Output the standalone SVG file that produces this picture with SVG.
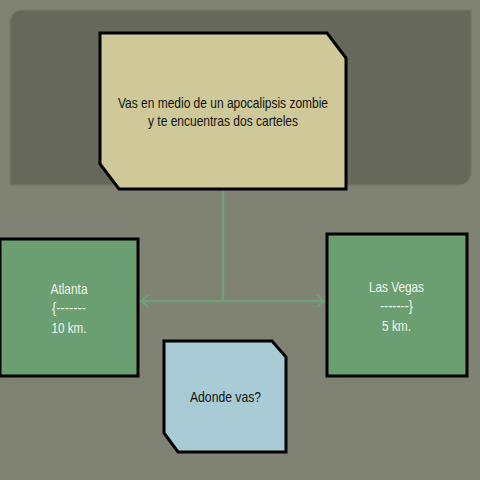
<svg xmlns="http://www.w3.org/2000/svg" width="480" height="480" viewBox="0 0 480 480">
<style>
.box{stroke:#000;stroke-width:3;stroke-linejoin:miter}
.dark{font-family:"Liberation Sans",Arial,sans-serif;font-size:15px;fill:#111;text-anchor:middle}
.light{font-family:"Liberation Sans",Arial,sans-serif;font-size:15px;fill:#f2f5ee;text-anchor:middle}
.conn{stroke:#6fa076;stroke-width:2.5;fill:none}
</style>
<defs>
<marker id="arr" markerUnits="userSpaceOnUse" markerWidth="16" markerHeight="16" viewBox="-10 -8 16 16" refX="0" refY="0" orient="auto-start-reverse" overflow="visible">
<path d="M-7,-6 L0,0 L-7,6" fill="none" stroke="#6fa076" stroke-width="2"/>
</marker>
</defs>
<rect width="480" height="480" fill="#808373"/>
<path d="M22,10 H471 V173 A12,12 0 0 1 459,185 H10 V22 A12,12 0 0 1 22,10 Z" fill="#65685a" stroke="#75786a" stroke-width="1.5"/>
<g id="connectors">
<line class="conn" x1="223" y1="189" x2="223" y2="301"/>
<line class="conn" x1="141" y1="301" x2="324" y2="301" marker-start="url(#arr)" marker-end="url(#arr)"/>
</g>
<g id="n-top">
<path class="box" d="M100,33 H327 L346,58 V189 H119 L100,164 Z" fill="#cfc99a"/>
<text class="dark" x="223" y="108" textLength="210" lengthAdjust="spacingAndGlyphs">Vas en medio de un apocalipsis zombie</text>
<text class="dark" x="223" y="126" textLength="150" lengthAdjust="spacingAndGlyphs">y te encuentras dos carteles</text>
</g>
<g id="n-atlanta">
<rect class="box" x="0" y="239" width="138" height="137" fill="#6b9f72"/>
<text class="light" x="69" y="294" textLength="37" lengthAdjust="spacingAndGlyphs">Atlanta</text>
<text class="light" x="69" y="313" textLength="34" lengthAdjust="spacingAndGlyphs">{-------</text>
<text class="light" x="69" y="333" textLength="35" lengthAdjust="spacingAndGlyphs">10 km.</text>
</g>
<g id="n-vegas">
<rect class="box" x="327" y="234" width="140" height="142" fill="#6b9f72"/>
<text class="light" x="396.5" y="292" textLength="55" lengthAdjust="spacingAndGlyphs">Las Vegas</text>
<text class="light" x="396.5" y="311" textLength="33" lengthAdjust="spacingAndGlyphs">-------}</text>
<text class="light" x="396.5" y="331" textLength="29" lengthAdjust="spacingAndGlyphs">5 km.</text>
</g>
<g id="n-adonde">
<path class="box" d="M164,341 H272 L286,357 V452 H178 L164,433 Z" fill="#a9cbd5"/>
<text class="dark" x="225.5" y="402" textLength="71" lengthAdjust="spacingAndGlyphs">Adonde vas?</text>
</g>
</svg>
